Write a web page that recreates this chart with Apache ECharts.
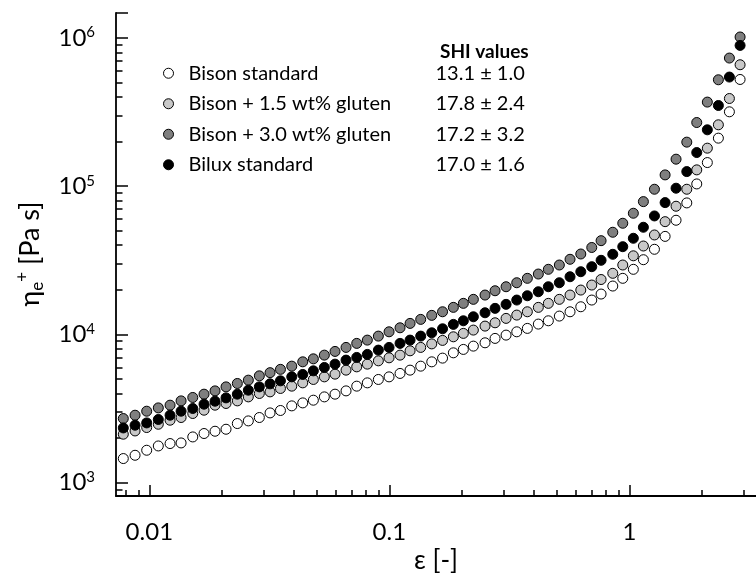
<!DOCTYPE html>
<html>
<head>
<meta charset="utf-8">
<script src="https://cdn.jsdelivr.net/npm/echarts@6/dist/echarts.min.js"></script>
<style>
html,body{margin:0;padding:0;background:#fff;}
#chart{width:756px;height:575px;}
</style>
</head>
<body>
<div id="chart"></div>
<script>
// Hencky strain values (x)
const strain = [0.00779,0.00872,0.00975,0.01090,0.01220,0.01356,0.01517,0.01690,0.01878,0.02087,
  0.02326,0.02585,0.02873,0.03184,0.03518,0.03921,0.04357,0.04824,0.05360,0.05938,
  0.06600,0.07314,0.08096,0.09000,0.09972,0.1108,0.1220,0.1351,0.1502,0.1666,
  0.1848,0.2034,0.2239,0.2504,0.2757,0.3064,0.3395,0.3758,0.4176,0.4597,
  0.5108,0.5660,0.6275,0.6972,0.7624,0.8529,0.9387,1.039,1.144,1.272,
  1.409,1.565,1.735,1.909,2.113,2.349,2.611,2.893];

const bisonStandard = [1453,1529,1653,1767,1834,1852,2033,2144,2221,2291,
  2503,2608,2749,2953,3066,3294,3450,3598,3788,3951,
  4158,4475,4710,4965,5170,5452,5739,6106,6530,6918,
  7512,7919,8335,8777,9397,9892,10413,10977,11739,12357,
  13295,14215,15364,17054,18720,21200,23900,27490,31920,37530,
  45860,58920,77140,103600,144400,211000,317700,525100];

const bisonGluten15 = [2121,2231,2353,2476,2636,2749,2926,3080,3330,3419,
  3560,3788,3994,4095,4317,4475,4710,4965,5170,5393,
  5739,6040,6300,6632,6950,7246,7750,8170,8629,9109,
  9634,10158,10693,11378,11978,12826,13502,14215,15220,16199,
  17240,18430,19918,21532,23460,25835,29393,33910,39490,46880,
  57650,73250,95400,128900,180600,259600,390700,660100];

const bisonGluten30 = [2706,2849,3032,3192,3330,3560,3753,3951,4158,4425,
  4666,4912,5252,5519,5810,6106,6530,6841,7246,7676,
  8170,8697,9151,9739,10413,11081,11866,12629,13442,14215,
  15220,16199,17240,18430,19703,20968,22315,23897,25550,27494,
  29393,32125,34881,38592,42900,48897,56234,65700,78700,95400,
  119200,152200,198300,269000,369500,522600,732500,1016000];

const biluxStandard = [2338,2439,2528,2666,2849,3032,3162,3382,3542,3729,
  3951,4203,4425,4637,4859,5170,5367,5677,5984,6300,
  6706,6993,7327,7834,8170,8697,9151,9739,10252,10909,
  11684,12357,13150,13995,14986,15948,17054,18230,19402,20968,
  22315,24498,26485,28631,31623,34713,39074,44530,52845,63000,
  77500,96940,125500,168700,240200,350400,545200,891300];

const seriesNames = ['Bison standard','Bison + 1.5 wt% gluten','Bison + 3.0 wt% gluten','Bilux standard'];
const shiValues = ['13.1 ± 1.0','17.8 ± 2.4','17.2 ± 3.2','17.0 ± 1.6'];
const shiHeader = 'SHI values';
const xTitle = 'ε [-]';

const xMajor = [0.01, 0.1, 1];
const xMajorLabels = ['0.01', '0.1', '1'];
const xMinor = [0.008,0.009,0.02,0.03,0.04,0.05,0.06,0.07,0.08,0.09,0.2,0.3,0.4,0.5,0.6,0.7,0.8,0.9,2,3];
const yMajor = [1e3, 1e4, 1e5, 1e6];
const yMajorExp = ['3','4','5','6'];
const yMinor = [900,2e3,3e3,4e3,5e3,6e3,7e3,8e3,9e3,2e4,3e4,4e4,5e4,6e4,7e4,8e4,9e4,2e5,3e5,4e5,5e5,6e5,7e5,8e5,9e5];

const X_MIN = 0.007263, X_MAX = 3.37;
const Y_MIN = 812, Y_MAX = 1.475e6;

const FONT = 'Lato, "Open Sans", sans-serif';
const L = v => Math.log10(v);

const seriesData = [bisonStandard, bisonGluten15, bisonGluten30, biluxStandard];
const fills = ['#ffffff', '#c8c8c8', '#7f7f7f', '#000000'];

function findLabel(ticks, labels, v) {
  for (let i = 0; i < ticks.length; i++) if (Math.abs(L(ticks[i]) - v) < 1e-6) return labels[i];
  return '';
}

function valAx(min, max, pos, ticks, len, showLine, label) {
  return {
    type: 'value', min: min, max: max, position: pos,
    axisLine: {show: showLine, onZero: false, lineStyle: {color: '#000', width: 1.8}},
    axisTick: {show: true, inside: true, length: len, customValues: ticks, lineStyle: {color: '#000', width: 1.5}},
    axisLabel: label || {show: false},
    splitLine: {show: false}
  };
}

const xMajorAxis = valAx(L(X_MIN), L(X_MAX), 'bottom', xMajor.map(L), 11, true, {
  show: true, customValues: xMajor.map(L), margin: 24,
  fontFamily: FONT, fontSize: 24, color: '#000',
  formatter: v => findLabel(xMajor, xMajorLabels, v)
});
const xMinorAxis = valAx(L(X_MIN), L(X_MAX), 'bottom', xMinor.map(L), 6, false, null);
const yMajorAxis = valAx(L(Y_MIN), L(Y_MAX), 'left', yMajor.map(L).concat([L(Y_MAX)]), 12, true, {
  show: true, customValues: yMajor.map(L), margin: 21,
  formatter: v => '{b|10}{s|' + findLabel(yMajor, yMajorExp, v) + '}',
  rich: {
    b: {fontFamily: FONT, fontSize: 24, lineHeight: 26, color: '#000'},
    s: {fontFamily: FONT, fontSize: 15, lineHeight: 15, verticalAlign: 'top', color: '#000'}
  }
});
const yMinorAxis = valAx(L(Y_MIN), L(Y_MAX), 'left', yMinor.map(L), 6.5, false, null);

const chart = echarts.init(document.getElementById('chart'));

chart.setOption({
  animation: false,
  backgroundColor: '#fff',
  grid: {left: 116, right: 0, top: 13, bottom: 79},
  title: {
    text: shiHeader, left: 435, top: 37,
    textStyle: {fontFamily: FONT, fontSize: 19, fontWeight: 'bold', color: '#000'}
  },
  legend: {
    orient: 'vertical', left: 158, top: 58,
    icon: 'circle', itemWidth: 30, itemHeight: 10, itemGap: 10,
    data: seriesNames,
    itemStyle: {borderColor: '#000', borderWidth: 1, opacity: 1},
    formatter: function (name) {
      const i = seriesNames.indexOf(name);
      return '{n|' + name + '}{v|' + shiValues[i] + '}';
    },
    textStyle: {
      fontFamily: FONT, fontSize: 20, color: '#000', lineHeight: 20.5,
      rich: {
        n: {width: 247, fontFamily: FONT, fontSize: 20, color: '#000'},
        v: {fontFamily: FONT, fontSize: 20, color: '#000'}
      }
    }
  },
  graphic: [
    {
      type: 'text', x: 436, y: 561,
      style: {text: xTitle, font: '26px ' + FONT, fill: '#000', align: 'center', verticalAlign: 'middle'}
    },
    {
      type: 'text', x: 30, y: 254, rotation: Math.PI / 2,
      style: {
        text: '{m|η}{sub|e}{sup|+}{m| [Pa s]}', align: 'center', verticalAlign: 'middle', fill: '#000',
        font: '27px ' + FONT,
        rich: {
          m: {fontFamily: FONT, fontSize: 27, lineHeight: 32, fill: '#000'},
          sub: {fontFamily: FONT, fontSize: 17, lineHeight: 17, verticalAlign: 'bottom', fill: '#000'},
          sup: {fontFamily: FONT, fontSize: 17, lineHeight: 17, verticalAlign: 'top', fill: '#000'}
        }
      }
    }
  ],
  xAxis: [
    {type: 'log', min: X_MIN, max: X_MAX, show: false},
    xMajorAxis,
    xMinorAxis
  ],
  yAxis: [
    {type: 'log', min: Y_MIN, max: Y_MAX, show: false},
    yMajorAxis,
    yMinorAxis
  ],
  series: seriesNames.map((name, k) => ({
    name: name,
    type: 'scatter',
    xAxisIndex: 0, yAxisIndex: 0,
    symbol: 'circle', symbolSize: 10,
    itemStyle: {color: fills[k], borderColor: '#000', borderWidth: 1, opacity: 1},
    data: strain.map((x, i) => [x, seriesData[k][i]])
  }))
});
</script>
</body>
</html>
